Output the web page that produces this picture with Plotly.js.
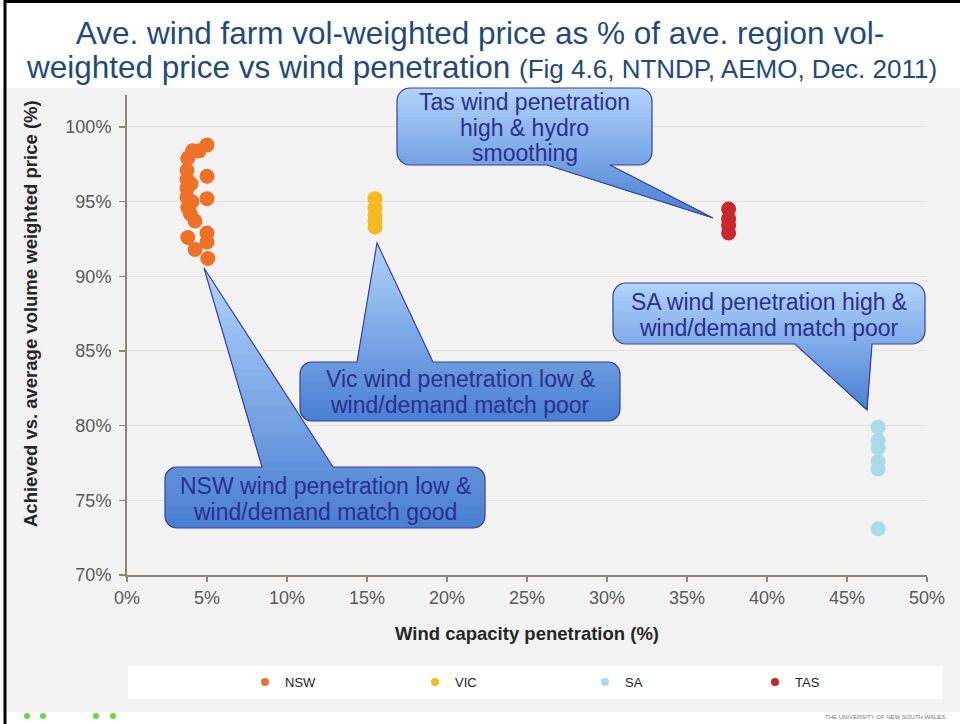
<!DOCTYPE html>
<html>
<head>
<meta charset="utf-8">
<script src="https://cdn.plot.ly/plotly-3.0.1.min.js"></script>
<style>
html,body{margin:0;padding:0;background:#ffffff;}
#chart{width:960px;height:724px;}
</style>
</head>
<body>
<div id="chart"></div>
<script>
// ---------------- DATA ----------------
const regions = ['NSW', 'VIC', 'SA', 'TAS'];
const regionColors = ['#EE7125', '#F5B922', '#A6DBEA', '#C8282D'];

const nswX = [5.0, 4.5, 4.1, 3.8, 3.75, 3.75, 3.75, 3.75, 4.0, 4.05, 5.0, 5.0, 3.8, 3.95, 4.25, 3.8, 5.0, 5.0, 4.25, 5.05];
const nswY = [98.8, 98.4, 98.4, 97.9, 97.1, 96.5, 95.9, 95.3, 96.2, 95.0, 96.7, 95.2, 94.6, 94.2, 93.7, 92.6, 92.9, 92.3, 91.8, 91.2];

const vicX = [15.5, 15.5, 15.5, 15.5, 15.5];
const vicY = [95.2, 94.6, 94.1, 93.7, 93.3];

const saX = [46.95, 46.95, 46.95, 46.95, 46.95, 46.95];
const saY = [79.9, 79.0, 78.5, 77.6, 77.1, 73.1];

const tasX = [37.6, 37.6, 37.6, 37.6];
const tasY = [94.5, 93.85, 93.4, 92.9];

const xTicks = [0, 5, 10, 15, 20, 25, 30, 35, 40, 45, 50];
const xTickLabels = ['0%', '5%', '10%', '15%', '20%', '25%', '30%', '35%', '40%', '45%', '50%'];
const yTicks = [70, 75, 80, 85, 90, 95, 100];
const yTickLabels = ['70%', '75%', '80%', '85%', '90%', '95%', '100%'];

const titleLine1 = 'Ave. wind farm vol-weighted price as % of ave. region vol-';
const titleLine2a = 'weighted price vs wind penetration ';
const titleLine2b = '(Fig 4.6, NTNDP, AEMO, Dec. 2011)';
const xTitle = 'Wind capacity penetration (%)';
const yTitle = 'Achieved vs. average volume weighted price (%)';

const calloutTexts = [
  ['Tas wind penetration', 'high & hydro', 'smoothing'],
  ['SA wind penetration high &', 'wind/demand match poor'],
  ['Vic wind penetration low &', 'wind/demand match poor'],
  ['NSW wind penetration low &', 'wind/demand match good']
];

// ---------------- LAYOUT GEOMETRY (pixels) ----------------
const PL = 127, PR = 927, PT = 95, PB = 575;
const fx = px => (px - PL) / (PR - PL);
const fy = py => (PB - py) / (PB - PT);

// callout boxes (pixel geometry)
const callouts = [
  {l: 397, t: 88, r: 652, b: 165, rad: 13, side: 'bottom', base: [547, 610], tip: [713, 218],
   cx: 524.5, lines: [101.5, 127.5, 152.5]},
  {l: 613, t: 283, r: 925, b: 344, rad: 13, side: 'bottom', base: [795, 872], tip: [867, 410],
   cx: 769, lines: [301.5, 328]},
  {l: 300, t: 362, r: 620, b: 421, rad: 12, side: 'top', base: [357, 433], tip: [377, 243],
   cx: 460, lines: [378.5, 405]},
  {l: 165, t: 467, r: 485, b: 528, rad: 12, side: 'top', base: [262, 333], tip: [204, 268],
   cx: 325, lines: [485.5, 512]}
];

function calloutPoly(c) {
  const pts = [];
  const seg = 8;
  function arc(cx, cy, a0, a1) {
    for (let i = 0; i <= seg; i++) {
      const a = a0 + (a1 - a0) * i / seg;
      pts.push([cx + c.rad * Math.cos(a), cy + c.rad * Math.sin(a)]);
    }
  }
  arc(c.l + c.rad, c.t + c.rad, Math.PI, 1.5 * Math.PI);
  if (c.side === 'top') { pts.push([c.base[0], c.t], c.tip, [c.base[1], c.t]); }
  arc(c.r - c.rad, c.t + c.rad, 1.5 * Math.PI, 2 * Math.PI);
  arc(c.r - c.rad, c.b - c.rad, 0, 0.5 * Math.PI);
  if (c.side === 'bottom') { pts.push([c.base[1], c.b], c.tip, [c.base[0], c.b]); }
  arc(c.l + c.rad, c.b - c.rad, 0.5 * Math.PI, Math.PI);
  return pts;
}
function clipBelow(poly, y0) {
  const out = [];
  for (let i = 0; i < poly.length; i++) {
    const A = poly[i], B = poly[(i + 1) % poly.length];
    const ain = A[1] >= y0, bin = B[1] >= y0;
    if (ain) out.push(A);
    if (ain !== bin) {
      const t = (y0 - A[1]) / (B[1] - A[1]);
      out.push([A[0] + t * (B[0] - A[0]), y0]);
    }
  }
  return out;
}
function toPath(pts) {
  return 'M' + pts.map(p => fx(p[0]).toFixed(5) + ',' + fy(p[1]).toFixed(5)).join('L') + 'Z';
}
function mix(c1, c2, t) {
  const r = Math.round(c1[0] + (c2[0] - c1[0]) * t);
  const g = Math.round(c1[1] + (c2[1] - c1[1]) * t);
  const b = Math.round(c1[2] + (c2[2] - c1[2]) * t);
  return 'rgb(' + r + ',' + g + ',' + b + ')';
}
const gradTop = [176, 210, 250], gradBot = [74, 128, 210];

const shapes = [];
// slide grey background
shapes.push({type: 'rect', xref: 'paper', yref: 'paper', layer: 'below',
  x0: fx(7), x1: fx(960), y0: fy(712), y1: fy(88), fillcolor: '#f2f2f2', line: {width: 0}});
// legend white box
shapes.push({type: 'rect', xref: 'paper', yref: 'paper', layer: 'below',
  x0: fx(128), x1: fx(943), y0: fy(699), y1: fy(666), fillcolor: '#ffffff', line: {width: 0}});
// black frame lines
shapes.push({type: 'line', xref: 'paper', yref: 'paper', layer: 'above',
  x0: fx(5), x1: fx(5), y0: fy(724), y1: fy(0), line: {color: '#000000', width: 3}});
shapes.push({type: 'line', xref: 'paper', yref: 'paper', layer: 'above',
  x0: fx(4), x1: fx(960), y0: fy(1.5), y1: fy(1.5), line: {color: '#000000', width: 3}});
// small footer logo dots
[[27, 716], [43, 716], [96, 716], [113, 716]].forEach(p => {
  shapes.push({type: 'circle', xref: 'paper', yref: 'paper', layer: 'above',
    x0: fx(p[0] - 3), x1: fx(p[0] + 3), y0: fy(p[1] + 3), y1: fy(p[1] - 3),
    fillcolor: '#66dd33', line: {width: 0}});
});

// callouts with stepped vertical gradient
const NB = 36;
callouts.forEach(c => {
  const poly = calloutPoly(c);
  const ys = poly.map(p => p[1]);
  const y0 = Math.min(...ys), y1 = Math.max(...ys);
  shapes.push({type: 'path', xref: 'paper', yref: 'paper', layer: 'above',
    path: toPath(poly), fillcolor: mix(gradTop, gradBot, 0), line: {width: 0}});
  for (let i = 1; i < NB; i++) {
    const yy = y0 + (y1 - y0) * i / NB;
    const sub = clipBelow(poly, yy);
    if (sub.length < 3) continue;
    shapes.push({type: 'path', xref: 'paper', yref: 'paper', layer: 'above',
      path: toPath(sub), fillcolor: mix(gradTop, gradBot, i / (NB - 1)), line: {width: 0}});
  }
  shapes.push({type: 'path', xref: 'paper', yref: 'paper', layer: 'above',
    path: toPath(poly), fillcolor: 'rgba(0,0,0,0)', line: {color: '#3b3f9e', width: 1.2}});
});

const annotations = [];
callouts.forEach((c, k) => {
  calloutTexts[k].forEach((txt, j) => {
    annotations.push({xref: 'paper', yref: 'paper', x: fx(c.cx), y: fy(c.lines[j]),
      xanchor: 'center', yanchor: 'middle', showarrow: false, text: txt,
      font: {family: 'Liberation Sans, Arial, sans-serif', size: 23, color: '#2e2f8e'}});
  });
});
// title line 2
annotations.push({xref: 'paper', yref: 'paper', x: fx(481), y: fy(67), xanchor: 'center', yanchor: 'middle',
  showarrow: false,
  text: titleLine2a + '<span style="font-size:26px">' + titleLine2b + '</span>',
  font: {family: 'Liberation Sans, Arial, sans-serif', size: 31.5, color: '#1f4a80'}});
// y axis title
annotations.push({xref: 'paper', yref: 'paper', x: fx(30), y: fy(314), xanchor: 'center', yanchor: 'middle',
  showarrow: false, textangle: -90, text: '<b>' + yTitle + '</b>',
  font: {family: 'Liberation Sans, Arial, sans-serif', size: 18.5, color: '#262626'}});
// footer text
annotations.push({xref: 'paper', yref: 'paper', x: fx(823), y: fy(717), xanchor: 'left', yanchor: 'middle',
  showarrow: false, text: 'THE UNIVERSITY OF NEW SOUTH WALES',
  font: {family: 'Liberation Sans, Arial, sans-serif', size: 6, color: '#777777'}});

// ---------------- TRACES ----------------
const seriesX = [nswX, vicX, saX, tasX];
const seriesY = [nswY, vicY, saY, tasY];
const traces = [];
regions.forEach((name, i) => {
  traces.push({type: 'scatter', mode: 'markers', name: name, x: seriesX[i], y: seriesY[i],
    showlegend: false, legendgroup: name,
    marker: {size: 15, color: regionColors[i], line: {width: 0}}});
});
regions.forEach((name, i) => {
  traces.push({type: 'scatter', mode: 'markers', name: name, x: [null], y: [null],
    showlegend: true, legendgroup: name,
    marker: {size: 8, color: regionColors[i], line: {width: 0}}});
});

const axisColor = '#8e8471';
const layout = {
  width: 960, height: 724,
  margin: {l: PL, r: 960 - PR, t: PT, b: 724 - PB, pad: 0},
  paper_bgcolor: '#ffffff',
  plot_bgcolor: 'rgba(0,0,0,0)',
  font: {family: 'Liberation Sans, Arial, sans-serif', color: '#595959'},
  title: {text: titleLine1, x: 0.5, xanchor: 'center', xref: 'container',
    y: 1 - 33 / 724, yanchor: 'middle', yref: 'container',
    font: {family: 'Liberation Sans, Arial, sans-serif', size: 31.5, color: '#1f4a80'}},
  xaxis: {range: [0, 50], tickmode: 'array', tickvals: xTicks, ticktext: xTickLabels,
    showgrid: false, zeroline: false, showline: true, linecolor: axisColor, linewidth: 2,
    ticks: 'outside', ticklen: 5, tickcolor: axisColor, tickwidth: 1.5,
    tickfont: {size: 18, color: '#595959'},
    title: {text: '<b>' + xTitle + '</b>', standoff: 20,
      font: {size: 18.5, color: '#262626'}}},
  yaxis: {range: [70, 102.14], tickmode: 'array', tickvals: yTicks, ticktext: yTickLabels,
    showgrid: true, gridcolor: '#e6e1d9', gridwidth: 1, zeroline: false,
    showline: true, linecolor: axisColor, linewidth: 2,
    ticks: 'outside', ticklen: 6, tickcolor: axisColor, tickwidth: 1.5,
    ticklabelstandoff: 4,
    tickfont: {size: 18, color: '#595959'}},
  legend: {orientation: 'h', x: fx(245), xanchor: 'left', y: fy(682), yanchor: 'middle',
    bgcolor: 'rgba(0,0,0,0)', entrywidth: 125, entrywidthmode: 'pixels',
    font: {size: 13, color: '#1a1a1a'}, traceorder: 'normal'},
  shapes: shapes,
  annotations: annotations,
  showlegend: true
};

Plotly.newPlot('chart', traces, layout, {displayModeBar: false, staticPlot: true});
</script>
</body>
</html>
